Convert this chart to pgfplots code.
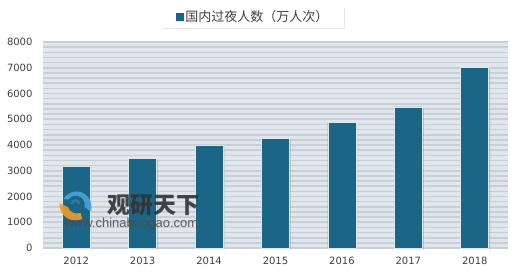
\documentclass[border=0pt]{standalone}
\usepackage{pgfplots}
\pgfplotsset{compat=1.18}
\usepackage{fontspec}
\setmainfont{DejaVu Sans}
\newfontfamily\cjk{Noto Sans CJK SC}
\newfontfamily\arial{Liberation Sans}
\usetikzlibrary{calc,shadows}
\definecolor{barcol}{HTML}{1B6586}
\definecolor{bgcol}{HTML}{E0E6EC}
\definecolor{gridcol}{HTML}{C6CED6}
\definecolor{txtcol}{HTML}{404040}
\definecolor{logoor}{HTML}{F39A2B}
\definecolor{logobl}{HTML}{4BA3D8}
\begin{document}
\begin{tikzpicture}
\begin{axis}[
  name=ax,
  scale only axis,
  width=465pt, height=206pt,
  ymin=0, ymax=8000,
  xmin=-0.5, xmax=6.5,
  ytick={0,1000,...,8000},
  minor y tick num=4,
  xtick={0,1,2,3,4,5,6},
  xticklabels={2012,2013,2014,2015,2016,2017,2018},
  major tick length=0pt, minor tick length=0pt,
  ymajorgrids, yminorgrids,
  major grid style={gridcol, line width=1.6pt},
  minor grid style={gridcol, line width=1.6pt},
  axis background/.style={fill=bgcol},
  axis line style={draw=none},
  tick label style={font=\fontsize{10}{12}\selectfont, text=txtcol},
  yticklabel style={xshift=-7pt},
  xticklabel style={yshift=-6pt},
  /pgf/number format/assume math mode=true,
  /pgf/number format/set thousands separator={},
  ybar, bar width=28pt,
  legend style={at={(0.452,1)}, anchor=south, yshift=14pt,
    draw=none, fill=white, drop shadow={shadow xshift=1pt, shadow yshift=-1.5pt, opacity=0.2},
    font=\cjk\fontsize{13}{15}\selectfont, text=txtcol,
    inner xsep=14pt, inner ysep=2.5pt},
  legend image code/.code={\fill[barcol] (0pt,-3.3pt) rectangle (6.6pt,3.3pt);},
  clip=false,
]
\addplot[fill=barcol, draw=white!85!barcol, line width=0.6pt,
  drop shadow={shadow xshift=1.5pt, shadow yshift=-1pt, opacity=0.35}]
  coordinates {(0,3180) (1,3490) (2,3990) (3,4260) (4,4890) (5,5480) (6,7000)};
\addlegendentry{国内过夜人数（万人次）}
\coordinate (wm1) at (axis cs:1.17,1660);
\coordinate (wm2) at (axis cs:0.83,920);
\coordinate (logo) at (axis cs:0.005,1670);
\end{axis}
% watermark logo
\begin{scope}[shift={(logo)}, opacity=0.9]
  \fill[logobl] (-13pt,6pt) arc[start angle=150, end angle=-20, radius=15pt]
     -- (8pt,-2pt) arc[start angle=-15, end angle=145, radius=9pt] -- cycle;
  \fill[logobl!75!black] (-6pt,1pt) arc[start angle=180, end angle=0, radius=5pt]
     -- (1.5pt,1pt) arc[start angle=0, end angle=180, radius=2.5pt] -- cycle;
  \fill[logoor] (-17pt,2pt) arc[start angle=175, end angle=295, radius=16pt]
     -- (4pt,-8pt) arc[start angle=290, end angle=200, radius=10pt] -- cycle;
\end{scope}
\node[font=\cjk\bfseries\fontsize{23}{26}\selectfont, text=black!80, opacity=0.9] at (wm1) {观研天下};
\node[font=\arial\fontsize{13}{15}\selectfont, text=black!70, opacity=0.9] at (wm2) {www.chinabaogao.com};
\path[use as bounding box] ($(ax.south west)+(-43pt,-30pt)$) rectangle ($(ax.north east)+(12pt,42pt)$);
\end{tikzpicture}
\end{document}
